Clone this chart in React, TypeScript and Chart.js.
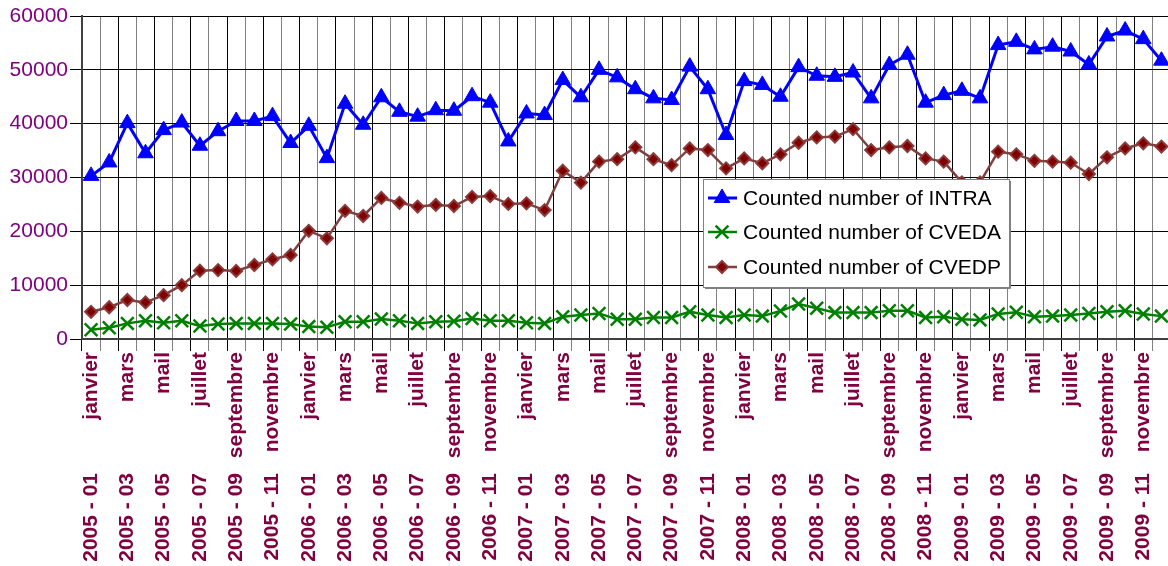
import React, { useEffect, useRef } from 'react';
import { Chart, registerables } from 'chart.js';

Chart.register(...registerables);

// ---- data ----
const years = ['2005', '2006', '2007', '2008', '2009'];
const monthNumbers = ['01', '02', '03', '04', '05', '06', '07', '08', '09', '10', '11', '12'];
const monthNames = ['janvier', 'février', 'mars', 'avril', 'mail', 'juin', 'juillet', 'août', 'septembre', 'octobre', 'novembre', 'décembre'];

const monthLabels: string[] = years.flatMap(() => monthNames);
const periodLabels: string[] = years.flatMap((y) => monthNumbers.map((m) => `${y} - ${m}`));

const intra = [
  30300, 32800, 40100, 34500, 38800, 40200, 35900, 38600, 40500, 40500, 41400, 36400,
  39600, 33600, 43700, 39800, 44900, 42200, 41300, 42500, 42400, 45100, 43900, 36700,
  41900, 41600, 48100, 44900, 50000, 48600, 46400, 44700, 44400, 50600, 46400, 37900,
  47900, 47200, 45000, 50500, 48900, 48700, 49500, 44700, 50900, 52800, 43900, 45300,
  46100, 44700, 54600, 55200, 53800, 54300, 53400, 51000, 56200, 57300, 55700, 51700,
];

const cveda = [
  1700, 2100, 2900, 3400, 3000, 3400, 2400, 2800, 2900, 2900, 2900, 2800,
  2300, 2200, 3200, 3200, 3700, 3400, 2900, 3200, 3300, 3800, 3400, 3400,
  3000, 2900, 4150, 4450, 4750, 3650, 3650, 4000, 4000, 5050, 4450, 4000,
  4450, 4250, 5200, 6500, 5700, 4900, 4900, 4900, 5250, 5250, 4000, 4150,
  3650, 3550, 4650, 4950, 4150, 4250, 4450, 4750, 5050, 5250, 4650, 4250,
];

const cvedp = [
  5050, 5900, 7250, 6800, 8150, 10000, 12700, 12800, 12650, 13750, 14800, 15600,
  20100, 18700, 23800, 22850, 26200, 25300, 24600, 24900, 24700, 26400, 26550, 25100,
  25200, 23950, 31250, 29050, 32950, 33400, 35600, 33400, 32300, 35400, 35100, 31700,
  33550, 32650, 34300, 36450, 37450, 37600, 39000, 35100, 35600, 35850, 33550, 32950,
  29100, 29100, 34800, 34300, 33100, 32950, 32750, 30650, 33750, 35400, 36350, 35750,
];

const FONT = "'Liberation Sans', Arial, sans-serif";
const LABEL_COLOR = '#800040';

type Marker = 'triangle' | 'crossRot' | 'rectRot';

function drawMarker(ctx: CanvasRenderingContext2D, kind: Marker, x: number, y: number, r: number, fill: string, stroke: string, lw: number) {
  ctx.save();
  ctx.beginPath();
  if (kind === 'triangle') {
    for (let k = 0; k < 3; k++) {
      const a = (k * 2 * Math.PI) / 3;
      const px = x + Math.sin(a) * r;
      const py = y - Math.cos(a) * r;
      if (k === 0) ctx.moveTo(px, py);
      else ctx.lineTo(px, py);
    }
    ctx.closePath();
    ctx.fillStyle = fill;
    ctx.fill();
    ctx.lineWidth = lw;
    ctx.strokeStyle = stroke;
    ctx.stroke();
  } else if (kind === 'rectRot') {
    ctx.moveTo(x - r, y);
    ctx.lineTo(x, y - r);
    ctx.lineTo(x + r, y);
    ctx.lineTo(x, y + r);
    ctx.closePath();
    ctx.fillStyle = fill;
    ctx.fill();
    ctx.lineWidth = lw;
    ctx.strokeStyle = stroke;
    ctx.stroke();
  } else {
    const o = Math.SQRT1_2 * r;
    ctx.moveTo(x - o, y - o);
    ctx.lineTo(x + o, y + o);
    ctx.moveTo(x + o, y - o);
    ctx.lineTo(x - o, y + o);
    ctx.lineWidth = lw;
    ctx.strokeStyle = stroke;
    ctx.stroke();
  }
  ctx.restore();
}

const boxLegend = {
  id: 'boxLegend',
  afterDatasetsDraw(chart: any) {
    const ctx: CanvasRenderingContext2D = chart.ctx;
    const x0 = 703;
    const y0 = 179;
    const w = 306;
    const h = 108;
    ctx.save();
    ctx.fillStyle = '#ffffff';
    ctx.fillRect(x0, y0, w, h);
    ctx.strokeStyle = '#808080';
    ctx.lineWidth = 1;
    ctx.strokeRect(x0 + 0.5, y0 + 0.5, w, h);
    ctx.beginPath();
    ctx.moveTo(x0 + w + 1.5, y0 + 2);
    ctx.lineTo(x0 + w + 1.5, y0 + h + 1.5);
    ctx.lineTo(x0 + 2, y0 + h + 1.5);
    ctx.stroke();
    const rows = [19, 53, 88];
    chart.data.datasets.forEach((ds: any, i: number) => {
      const cy = y0 + rows[i];
      ctx.beginPath();
      ctx.moveTo(x0 + 5, cy);
      ctx.lineTo(x0 + 34, cy);
      ctx.strokeStyle = ds.borderColor;
      ctx.lineWidth = ds.borderWidth;
      ctx.stroke();
      drawMarker(ctx, ds.pointStyle, x0 + 19, cy, ds.pointRadius, ds.pointBackgroundColor, ds.pointBorderColor, ds.pointBorderWidth);
      ctx.fillStyle = '#000000';
      ctx.font = `21px ${FONT}`;
      ctx.textAlign = 'left';
      ctx.textBaseline = 'middle';
      ctx.fillText(ds.label, x0 + 40, cy + 1);
    });
    ctx.restore();
  },
};

export default function App() {
  const canvasRef = useRef<HTMLCanvasElement | null>(null);

  useEffect(() => {
    const canvas = canvasRef.current;
    if (!canvas) return;
    const chart = new Chart(canvas, {
      type: 'line',
      data: {
        labels: periodLabels,
        datasets: [
          {
            label: 'Counted number of INTRA',
            data: intra,
            borderColor: '#0000FF',
            backgroundColor: '#0000FF',
            borderWidth: 3,
            pointStyle: 'triangle',
            pointRadius: 9,
            pointBorderWidth: 1,
            pointBackgroundColor: '#0000FF',
            pointBorderColor: '#0000FF',
            borderJoinStyle: 'round',
            tension: 0,
          },
          {
            label: 'Counted number of CVEDA',
            data: cveda,
            borderColor: '#008000',
            backgroundColor: '#008000',
            borderWidth: 2.5,
            pointStyle: 'crossRot',
            pointRadius: 9,
            pointBorderWidth: 2.5,
            pointBackgroundColor: '#008000',
            pointBorderColor: '#008000',
            borderJoinStyle: 'round',
            tension: 0,
          },
          {
            label: 'Counted number of CVEDP',
            data: cvedp,
            borderColor: '#804040',
            backgroundColor: '#800000',
            borderWidth: 2.5,
            pointStyle: 'rectRot',
            pointRadius: 6,
            pointBorderWidth: 2,
            pointBackgroundColor: '#800000',
            pointBorderColor: '#8B3A3A',
            borderJoinStyle: 'round',
            tension: 0,
          },
        ],
      },
      options: {
        animation: false,
        responsive: false,
        layout: { padding: { top: 16, left: 0, right: 0, bottom: 0 } },
        plugins: {
          legend: { display: false },
          tooltip: { enabled: false },
        },
        scales: {
          x: {
            type: 'category',
            position: 'bottom',
            offset: true,
            weight: 0,
            grid: {
              offset: true,
              color: (c: any) => (c.index !== undefined && c.index % 2 === 1 ? '#808080' : '#000000'),
              lineWidth: 1,
              tickLength: 12,
            },
            border: { color: '#404040', width: 2 },
            ticks: {
              autoSkip: false,
              minRotation: 90,
              maxRotation: 90,
              padding: 1,
              color: LABEL_COLOR,
              font: { family: FONT, size: 21, weight: 'bold' },
              callback: (_v: any, i: number) => (i % 2 === 0 ? monthLabels[i] : ''),
            },
            afterFit: (s: any) => {
              s.height = 121;
              s.paddingLeft = 0;
              s.paddingRight = 0;
            },
          },
          x2: {
            type: 'category',
            position: 'bottom',
            offset: true,
            weight: 1,
            labels: periodLabels,
            grid: { display: false, drawTicks: false },
            border: { display: false },
            ticks: {
              autoSkip: false,
              minRotation: 90,
              maxRotation: 90,
              padding: 13,
              color: LABEL_COLOR,
              font: { family: FONT, size: 21, weight: 'bold' },
              callback: (_v: any, i: number) => (i % 2 === 0 ? periodLabels[i] : ''),
            },
            afterFit: (s: any) => {
              s.height = 106;
              s.paddingLeft = 0;
              s.paddingRight = 0;
            },
          },
          y: {
            min: 0,
            max: 60000,
            ticks: {
              stepSize: 10000,
              padding: 2,
              color: '#800080',
              font: { family: FONT, size: 21 },
              callback: (v: any) => String(v),
            },
            grid: { color: '#000000', lineWidth: 1, tickLength: 12 },
            border: { color: '#404040', width: 2 },
            afterFit: (s: any) => {
              s.width = 82;
              s.paddingTop = 0;
              s.paddingBottom = 0;
            },
          },
        },
      } as any,
      plugins: [boxLegend],
    });
    return () => chart.destroy();
  }, []);

  return (
    <div style={{ position: 'fixed', left: 0, top: 0, width: 1168, height: 566, overflow: 'hidden', background: '#ffffff' }}>
      <canvas ref={canvasRef} width={1182} height={566} style={{ display: 'block' }} />
    </div>
  );
}
